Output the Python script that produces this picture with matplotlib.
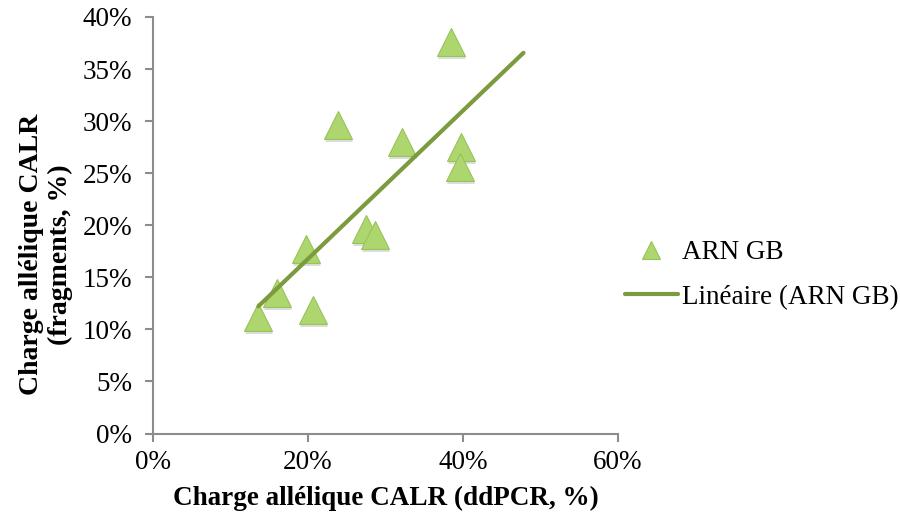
import numpy as np
import matplotlib
matplotlib.use("Agg")
import matplotlib.pyplot as plt
import matplotlib.transforms as mtransforms
from matplotlib.ticker import FuncFormatter

# Data (percent)
ddpcr = [38.4, 23.9, 32.1, 39.7, 39.6, 27.5, 28.7, 19.7, 16.0, 20.6, 13.6]
fragments = [37.6, 29.6, 28.0, 27.5, 25.6, 19.6, 19.1, 17.7, 13.5, 11.9, 11.2]
series_name = "ARN GB"
trend_name = "Linéaire (ARN GB)"
forward_forecast = 8.1  # trendline forward extension (percentage points)

x_ticks = [0, 20, 40, 60]
y_ticks = [0, 5, 10, 15, 20, 25, 30, 35, 40]

plt.rcParams['font.family'] = ['Liberation Serif', 'DejaVu Serif']
FS = 19.5

fig = plt.figure(figsize=(9, 5.26), dpi=100)
ax = fig.add_axes([153/900, 1-433.5/526, (618-153)/900, (433.5-17)/526])

# shadow under markers
shadow_tr = ax.transData + mtransforms.ScaledTranslation(1/100, -3/100, fig.dpi_scale_trans)
ax.plot(ddpcr, fragments, linestyle='none', marker='^', markersize=19.5,
        color='#a0a0a0', alpha=0.35, markeredgewidth=0,
        transform=shadow_tr, zorder=2)
sc, = ax.plot(ddpcr, fragments, linestyle='none', marker='^', markersize=19.5,
              markerfacecolor='#add66f', markeredgecolor='#98c25a', markeredgewidth=0.8,
              zorder=3, label=series_name)

# linear trendline
coef = np.polyfit(ddpcr, fragments, 1)
xs = np.array([min(ddpcr), max(ddpcr) + forward_forecast])
ln, = ax.plot(xs, np.polyval(coef, xs), color='#7b9b3e', linewidth=3,
              solid_capstyle='round', zorder=4, label=trend_name)

ax.set_xlim(0, 60)
ax.set_ylim(0, 40)
ax.set_xticks(x_ticks)
ax.set_yticks(y_ticks)
ax.xaxis.set_major_formatter(FuncFormatter(lambda v, p: f"{v:.0f}%"))
ax.yaxis.set_major_formatter(FuncFormatter(lambda v, p: f"{v:.0f}%"))
for s in ['top', 'right']:
    ax.spines[s].set_visible(False)
for s in ['left', 'bottom']:
    ax.spines[s].set_color('#8c8c8c')
    ax.spines[s].set_linewidth(1.5)
ax.tick_params(axis='both', colors='#8c8c8c', length=6, width=1.5, direction='out',
               labelsize=FS, labelcolor='black')
ax.tick_params(axis='x', pad=6)
ax.tick_params(axis='y', pad=9)

ax.set_xlabel("Charge allélique CALR (ddPCR, %)", fontsize=FS, fontweight='bold', labelpad=8)
ax.set_ylabel("Charge allélique CALR\n(fragments, %)", fontsize=FS + 0.5, fontweight='bold',
              linespacing=1.2)
ax.yaxis.set_label_coords(-0.172, 0.43)

leg = fig.legend(handles=[sc, ln], labels=[series_name, trend_name],
                 loc='center left', bbox_to_anchor=(625/900, 1-275/526),
                 frameon=False, fontsize=FS, handlelength=1.95, handletextpad=0.15,
                 borderpad=0, borderaxespad=0,
                 labelspacing=0.72, markerscale=0.64)

fig.savefig("out.png", dpi=100)
